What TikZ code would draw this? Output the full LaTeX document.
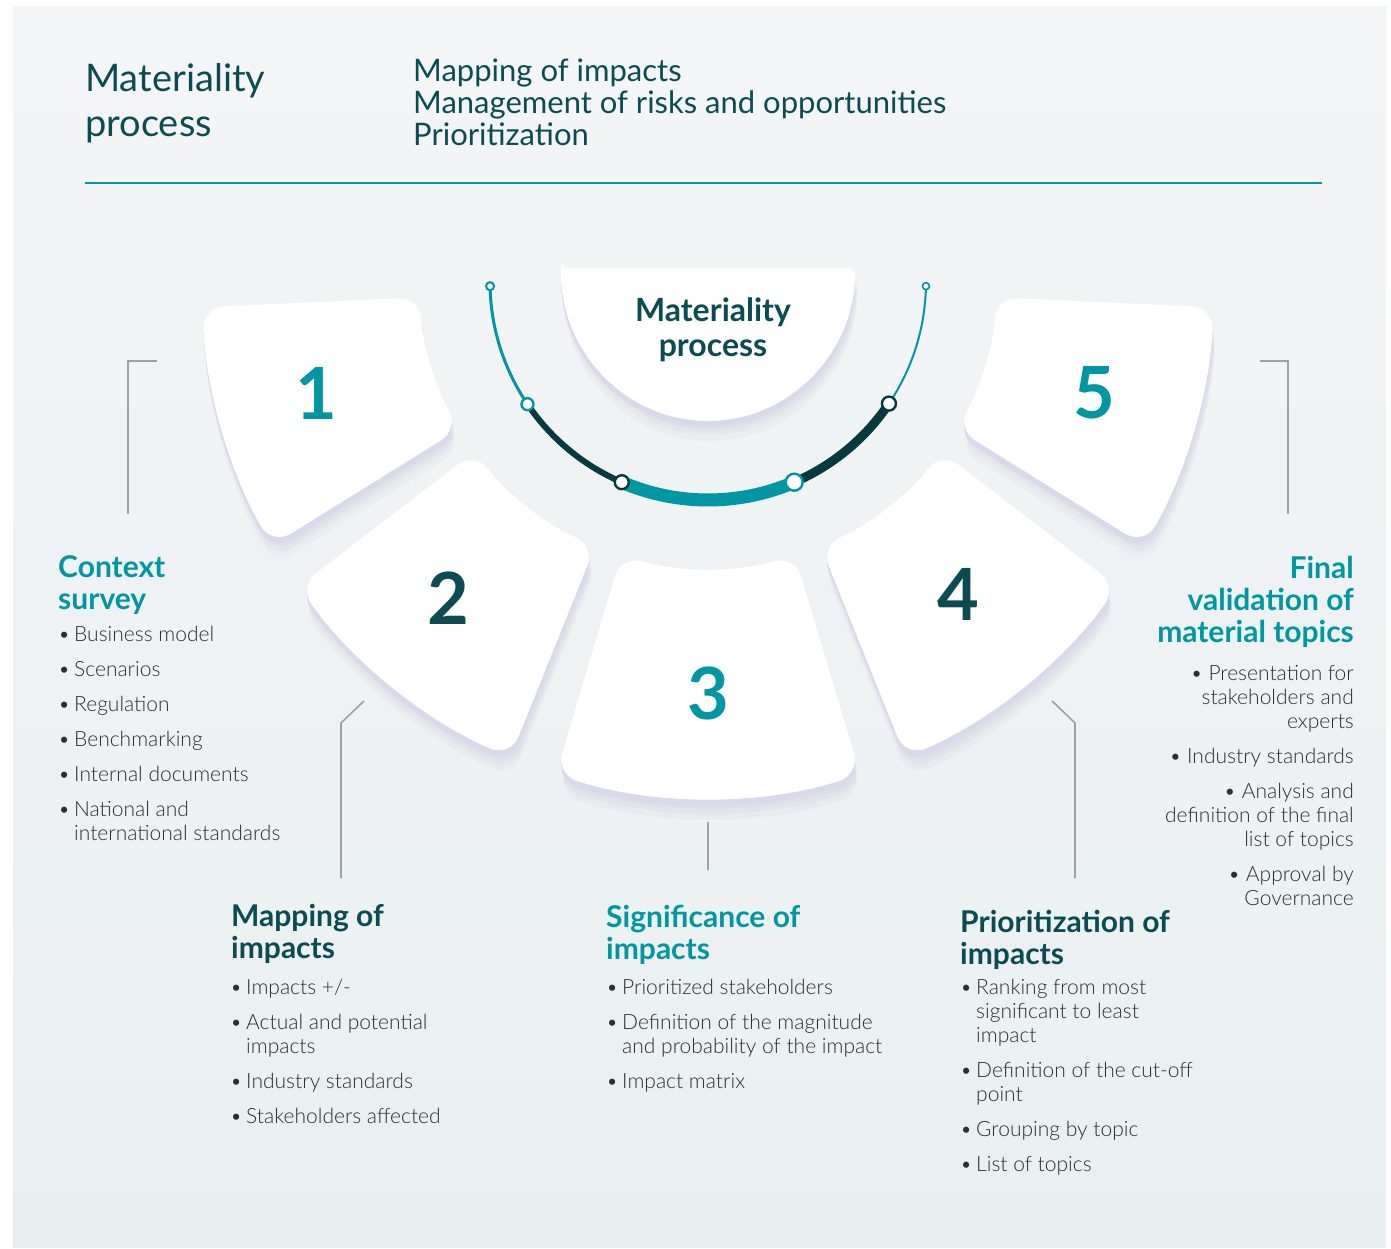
\documentclass[tikz,border=0pt]{standalone}
\usepackage{fontspec}
\setmainfont{Lato}
\newfontfamily\lightfont{Lato Light}
\usetikzlibrary{calc}

\definecolor{mteal}{HTML}{0096A2}
\definecolor{mdark}{HTML}{0B4C53}
\definecolor{arcdark}{HTML}{073A3F}
\definecolor{txtgray}{HTML}{2E2E2E}
\definecolor{rim}{HTML}{D8D9EB}
\definecolor{shadowblue}{HTML}{4A5088}
\definecolor{leadgray}{HTML}{A0A0A0}
\definecolor{bgtop}{HTML}{F4F5F6}
\definecolor{bgbot}{HTML}{E9EFF1}

\newcommand{\bul}{\makebox[16pt][l]{\textbullet}}
\newcommand{\cont}{\hspace*{16pt}}
% one step of the fan, between two angles around the fan centre (708,285)
\newcommand{\tilepath}[2]{($(708,285)+(#1:506 and 513)$) arc[start angle=#1,end angle=#2,x radius=506,y radius=513] -- ($(708,285)+(#2:288 and 283)$) arc[start angle=#2,end angle=#1,x radius=288,y radius=283] -- cycle}
\newcommand{\halfdisc}{(561,268) -- (855,268) arc[start angle=0,end angle=180,x radius=147,y radius=153] -- cycle}

\begin{document}
\begin{tikzpicture}[x=1pt,y=-1pt,
  title/.style={font=\fontsize{38}{45}\selectfont,text=mdark,align=left,inner sep=0pt},
  stages/.style={font=\fontsize{31}{32}\selectfont,text=mdark,align=left,inner sep=0pt},
  head/.style={font=\bfseries\fontsize{30}{32}\selectfont,align=left,inner sep=0pt},
  list/.style={font=\lightfont\fontsize{21}{24}\selectfont,text=txtgray,align=left,inner sep=0pt},
  num/.style={font=\bfseries\fontsize{72}{72}\selectfont,inner sep=0pt},
  soft/.style={fill=shadowblue,fill opacity=0.035,rounded corners=22pt},
  rimfill/.style={fill=rim,rounded corners=22pt},
  tile/.style={fill=white,rounded corners=22pt},
  lead/.style={draw=leadgray,line width=1.6pt},
  ring/.style={circle,fill=white,draw,line width=2.4pt,inner sep=0pt}]

\useasboundingbox (0,0) rectangle (1391,1249);
\fill[white] (0,0) rectangle (1391,1249);
\shade[top color=bgtop,bottom color=bgbot] (13,7) rectangle (1386,1247);

% header
\node[title,anchor=north west] (title) at (85,63) {Materiality\\process};
\node[stages,anchor=north west] (stages) at (413,58.5) {Mapping of impacts\\Management of risks and opportunities\\Prioritization};
\coordinate (rulel) at (85,183);
\coordinate (ruler) at (1322,183);
\draw[mteal,line width=2pt] (rulel) -- (ruler);

% the fan of steps: soft shadow, lilac rim, white face
\foreach \a/\b in {149.5/177.5,113/144,72.5/107.5,36/67,2.5/30.5}{
  \foreach \s in {9,14,20}
    \fill[soft,shift={(2,\s)}] \tilepath{\a}{\b};
  \fill[rimfill,shift={(0,6)}] \tilepath{\a}{\b};
}
\foreach \a/\b in {149.5/177.5,113/144,72.5/107.5,36/67,2.5/30.5}
  \fill[tile] \tilepath{\a}{\b};

% centre half disc
\foreach \s in {9,14,20}
  \fill[soft,rounded corners=6pt,shift={(2,\s)}] \halfdisc;
\fill[rimfill,rounded corners=6pt,shift={(0,6)}] \halfdisc;
\fill[tile,rounded corners=6pt] \halfdisc;
\node[head,font=\bfseries\fontsize{32}{35}\selectfont,align=center,text=mdark] (core) at (713,330) {Materiality\\process};

\node[num,text=mteal] (n1) at (316,393) {1};
\node[num,text=mdark] (n2) at (448,598) {2};
\node[num,text=mteal] (n3) at (708,693) {3};
\node[num,text=mdark] (n4) at (958,594) {4};
\node[num,text=mteal] (n5) at (1094,393) {5};

% timeline arc
\coordinate (a) at (708,282);
\foreach \n/\t in {0/178.9,1/145.9,2/113.3,3/66.7,4/33.9,5/1.1}
  \coordinate (p\n) at ($(a)+(\t:218)$);
\draw[mteal,line width=3pt] (p0) arc[start angle=178.9,end angle=145.9,radius=218];
\draw[arcdark,line width=6pt] (p1) arc[start angle=145.9,end angle=113.3,radius=218];
\draw[mteal,line width=13pt] (p2) arc[start angle=113.3,end angle=66.7,radius=218];
\draw[arcdark,line width=9pt] (p3) arc[start angle=66.7,end angle=33.9,radius=218];
\draw[mteal,line width=2pt] (p4) arc[start angle=33.9,end angle=1.1,radius=218];
\node[ring,draw=mteal,line width=2pt,minimum size=8pt] (r0) at (p0) {};
\node[ring,draw=mteal,minimum size=12pt] (r1) at (p1) {};
\node[ring,draw=arcdark,minimum size=14pt] (r2) at (p2) {};
\node[ring,draw=mteal,minimum size=17pt] (r3) at (p3) {};
\node[ring,draw=arcdark,minimum size=14pt] (r4) at (p4) {};
\node[ring,draw=mteal,line width=1.6pt,minimum size=7pt] (r5) at (p5) {};

% leaders to the texts
\coordinate (l1a) at (157,361); \coordinate (l1b) at (128,361); \coordinate (l1c) at (128,514);
\coordinate (l2a) at (364,701); \coordinate (l2b) at (341,723); \coordinate (l2c) at (341,878);
\coordinate (l3a) at (708,822); \coordinate (l3b) at (708,870);
\coordinate (l4a) at (1052,701); \coordinate (l4b) at (1075,723); \coordinate (l4c) at (1075,878);
\coordinate (l5a) at (1260,361); \coordinate (l5b) at (1288,361); \coordinate (l5c) at (1288,514);
\draw[lead] (l1a) -- (l1b) -- (l1c);
\draw[lead] (l2a) -- (l2b) -- (l2c);
\draw[lead] (l3a) -- (l3b);
\draw[lead] (l4a) -- (l4b) -- (l4c);
\draw[lead] (l5a) -- (l5b) -- (l5c);

% step texts
\node[head,text=mteal,anchor=north west] (h1) at (58,555.5) {Context\\survey};
\node[list,anchor=north west] (b1) at (58,625.8) {\bul Business model\\[11pt]
  \bul Scenarios\\[11pt] \bul Regulation\\[11pt] \bul Benchmarking\\[11pt]
  \bul Internal documents\\[11pt] \bul National and\\ \cont international standards};

\node[head,text=mdark,anchor=north west] (h2) at (231,904.5) {Mapping of\\impacts};
\node[list,anchor=north west] (b2) at (230,978.8) {\bul Impacts +/-\\[11pt]
  \bul Actual and potential\\ \cont impacts\\[11pt] \bul Industry standards\\[11pt]
  \bul Stakeholders affected};

\node[head,text=mteal,anchor=north west] (h3) at (606,904.5) {Significance of\\impacts};
\node[list,anchor=north west] (b3) at (606,978.8) {\bul Prioritized stakeholders\\[11pt]
  \bul Definition of the magnitude\\ \cont and probability of the impact\\[11pt]
  \bul Impact matrix};

\node[head,text=mdark,anchor=north west] (h4) at (960,909.5) {Prioritization of\\impacts};
\node[list,anchor=north west] (b4) at (960,978.8) {\bul Ranking from most\\ \cont significant to least\\ \cont impact\\[11pt]
  \bul Definition of the cut-off\\ \cont point\\[11pt] \bul Grouping by topic\\[11pt]
  \bul List of topics};

\node[head,text=mteal,align=right,anchor=north east] (h5) at (1354,556.5) {Final\\validation of\\material topics};
\node[list,align=right,anchor=north east] (b5) at (1354,664.8) {\textbullet\ Presentation for\\stakeholders and\\experts\\[11pt]
  \textbullet\ Industry standards\\[11pt] \textbullet\ Analysis and\\definition of the final\\list of topics\\[11pt]
  \textbullet\ Approval by\\Governance};
\end{tikzpicture}
\end{document}
